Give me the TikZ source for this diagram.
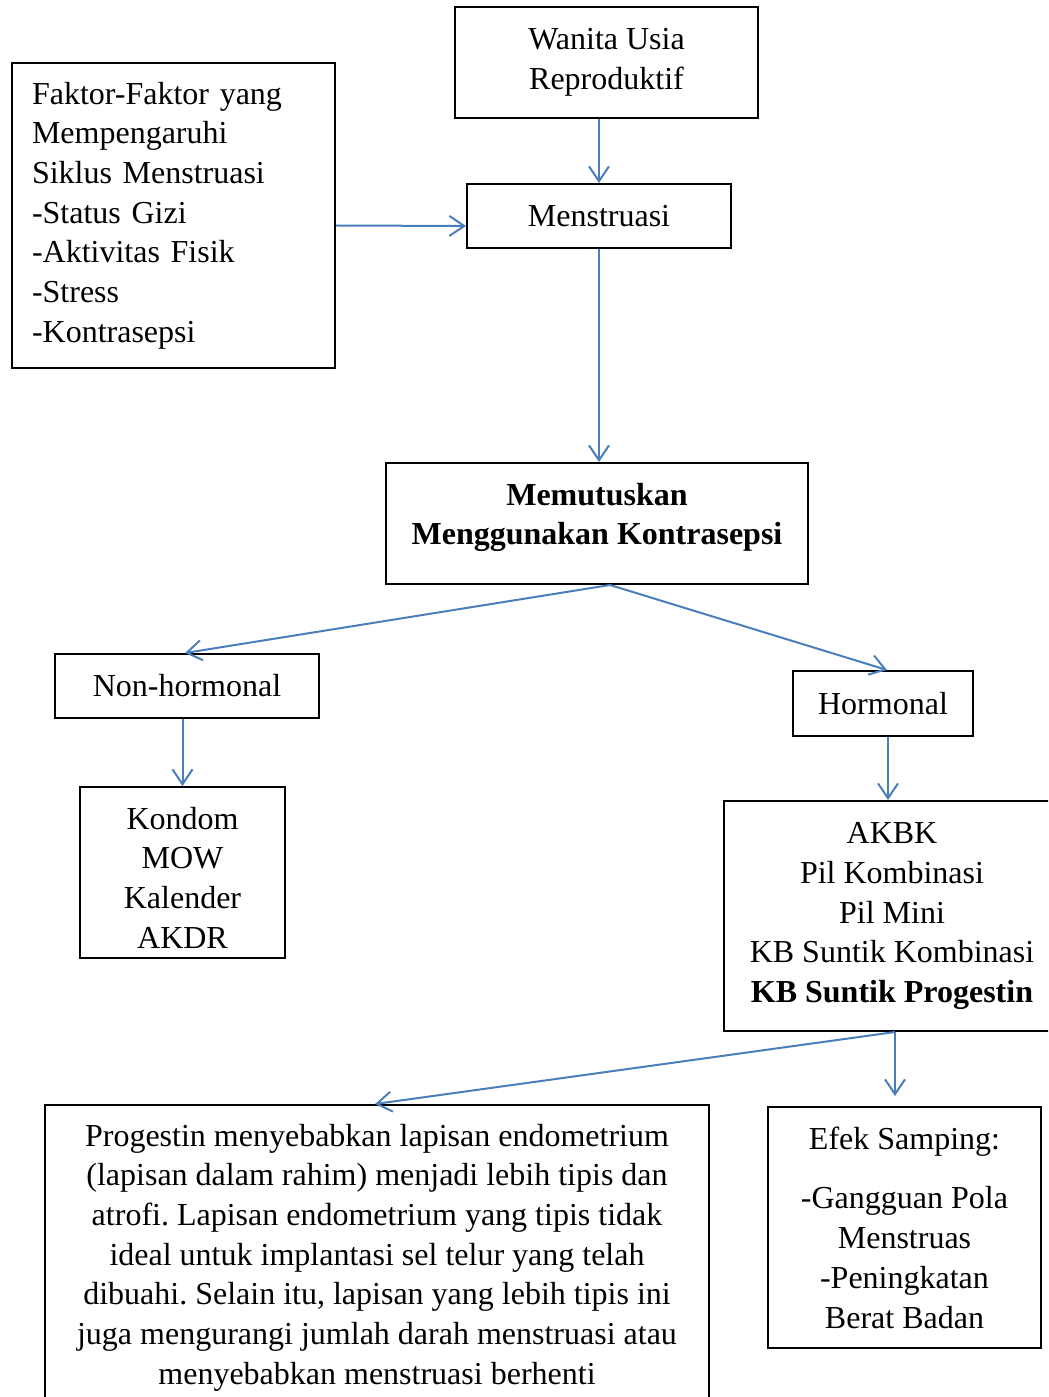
\documentclass[tikz,border=0pt]{standalone}
\usepackage{fontspec}
\setmainfont{Liberation Serif}
\usetikzlibrary{calc,arrows.meta}
\frenchspacing
\def\px{0.35pt}
\definecolor{arrblue}{RGB}{74,126,187}
\tikzset{
	boxtext/.style={inner sep=0pt, align=center, font=\fontsize{11.2}{13.9}\selectfont},
	box/.style={boxtext, draw=black, line width=0.7pt},
	arr/.style={draw=arrblue, line width=0.7pt, -{Straight Barb[length=5.2pt,width=7pt]}},
}

\begin{document}
\begin{tikzpicture}[x=\px, y=-\px]
		%%%%% START %%%%%
		
		\useasboundingbox (0,0) rectangle (1048,1397);
		\clip (0,0) rectangle (1048,1397);
		
		\node[box, minimum width=303*\px, minimum height=111*\px] (wus) at (606.5,62.5) {Wanita Usia\\Reproduktif};
		\node[box, align=left, text width=283*\px, inner xsep=20*\px, minimum height=305*\px] (faktor) at (173.5,215.5) {Faktor-Faktor yang\\Mempengaruhi\\Siklus Menstruasi\\-Status Gizi\\-Aktivitas Fisik\\-Stress\\-Kontrasepsi};
		\node[box, minimum width=264*\px, minimum height=64*\px] (mens) at (599,216) {Menstruasi};
		
		\node[box, minimum width=422*\px, minimum height=121*\px,
			label={[boxtext, font=\fontsize{11.2}{13.9}\selectfont\bfseries, yshift=6*\px]center:Memutuskan\\Menggunakan Kontrasepsi}] (memu) at (597,523.5) {};
		
		\node[box, minimum width=264*\px, minimum height=64*\px] (nonh) at (187,686) {Non-hormonal};
		\node[box, minimum width=180*\px, minimum height=65*\px] (horm) at (883,703.5) {Hormonal};
		
		\node[box, minimum width=205*\px, minimum height=171*\px,
			label={[boxtext, yshift=-5*\px]center:Kondom\\MOW\\Kalender\\AKDR}] (kond) at (182.5,872.5) {};
		\node[box, minimum width=336*\px, minimum height=230*\px] (akbk) at (892,916) {AKBK\\Pil Kombinasi\\Pil Mini\\KB Suntik Kombinasi\\\textbf{KB Suntik Progestin}};
		
		\node[box, minimum width=664*\px, minimum height=305*\px] (prog) at (377,1257.5) {Progestin menyebabkan lapisan endometrium\\(lapisan dalam rahim) menjadi lebih tipis dan\\atrofi. Lapisan endometrium yang tipis tidak\\ideal untuk implantasi sel telur yang telah\\dibuahi. Selain itu, lapisan yang lebih tipis ini\\juga mengurangi jumlah darah menstruasi atau\\menyebabkan menstruasi berhenti};
		\node[box, minimum width=273*\px, minimum height=241*\px] (efek) at (904.5,1227.5) {Efek Samping:\\[7pt]-Gangguan Pola\\Menstruas\\-Peningkatan\\Berat Badan};
		
		% connectors
		\draw[arr] (wus.south -| mens.north) -- (mens.north);
		\draw[arr] ([yshift=-10*\px]faktor.east) -- ([yshift=-10*\px]mens.west);
		\draw[arr] (mens.south) -- (mens.south |- memu.north);
		
		\coordinate (split1) at ([xshift=13*\px]memu.south);
		\draw[arr] (split1) -- ([xshift=-2*\px]nonh.north);
		\draw[arr] (split1) -- ([xshift=4*\px]horm.north);
		
		\draw[arr] (nonh.south -| kond.north) -- (kond.north);
		\draw[arr] ([xshift=5*\px]horm.south) -- ([xshift=-4*\px]akbk.north);
		
		\coordinate (split2) at ([xshift=3*\px]akbk.south);
		\coordinate (efektip) at ($(split2 |- efek.north)+(0,-10)$);
		\draw[arr] (split2) -- ([xshift=-2*\px]prog.north);
		\draw[arr] (split2) -- (efektip);
		
		%%%%% END %%%%%
\end{tikzpicture}
\end{document}
